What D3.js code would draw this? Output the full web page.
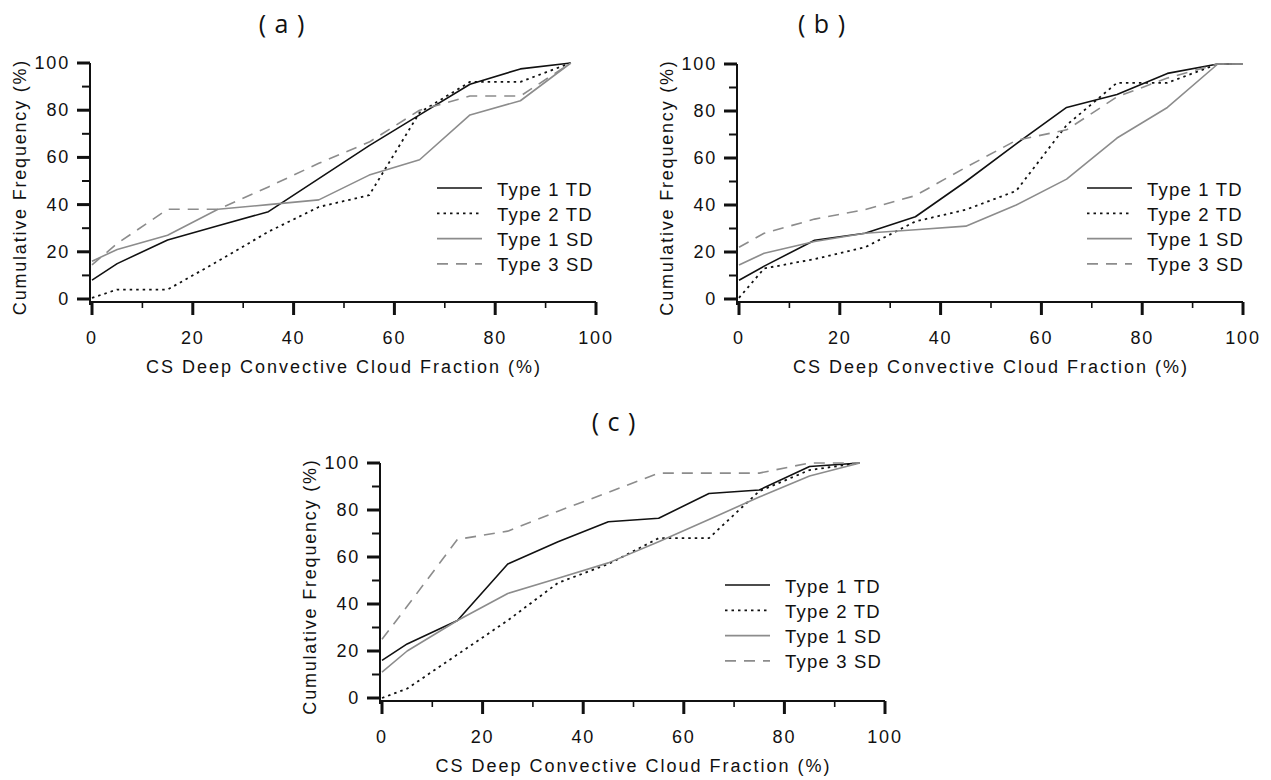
<!DOCTYPE html>
<html><head><meta charset="utf-8">
<script src="https://cdn.jsdelivr.net/npm/d3@7"></script>
<style>
body{margin:0;background:#fff;}
text{font-family:"Liberation Sans",Arial,sans-serif;fill:#111;}
.ptitle{font-family:"Open Sans","Noto Sans",sans-serif;}
</style></head>
<body>
<svg id="chart" width="1271" height="780"></svg>
<script>
// ---- data ----
const seriesNames = ["Type 1 TD", "Type 2 TD", "Type 1 SD", "Type 3 SD"];
const xTicks = [0, 20, 40, 60, 80, 100];
const yTicks = [0, 20, 40, 60, 80, 100];
const panelTitles = ["( a )", "( b )", "( c )"];
const xTitle = "CS Deep Convective Cloud Fraction (%)";
const yTitle = "Cumulative Frequency (%)";

const aX = [0, 5, 15, 25, 35, 45, 55, 65, 75, 85, 95];
const aType1TD = [8, 15, 25, 31, 37, 51, 65, 78, 91, 97.5, 100];
const aType2TD = [0.5, 4, 4, 16, 28.5, 39, 44, 79, 92, 92, 100];
const aType1SD = [16, 21, 27, 38, 40, 42, 52.5, 59, 78, 84, 100];
const aType3SD = [14.5, 23.5, 38, 38, 47.5, 57.5, 66.5, 80, 86, 86, 100];

const bX = [0, 5, 15, 25, 35, 45, 55, 65, 75, 85, 95, 100];
const bType1TD = [8, 14, 25, 28, 35, 50, 66, 81.5, 87, 96, 100, 100];
const bType2TD = [0.5, 13, 17, 22, 33, 38, 46, 74, 92, 92, 100, 100];
const bType1SD = [14.5, 19.5, 24.5, 28, 29.5, 31, 40, 51, 68.5, 81.5, 100, 100];
const bType3SD = [22, 28, 34, 38, 44, 56, 67.5, 72, 86, 94, 100, 100];

const cX = [0, 5, 15, 25, 35, 45, 55, 65, 75, 85, 95];
const cType1TD = [16, 23, 33, 57, 66.5, 75, 76.5, 87, 88.5, 98.5, 100];
const cType2TD = [0, 4, 18.5, 33, 49, 57, 68, 68, 88, 97, 100];
const cType1SD = [11, 20, 33, 44.5, 51, 57.5, 66.5, 76, 85.5, 94.5, 100];
const cType3SD = [25, 39, 67.5, 71, 79.5, 87.5, 95.7, 95.7, 95.7, 100, 100];

// ---- styles ----
const styles = [
  {stroke:"#111", width:1.6, dash:null},
  {stroke:"#111", width:1.8, dash:"2.5,4"},
  {stroke:"#8c8c8c", width:1.6, dash:null},
  {stroke:"#8c8c8c", width:1.6, dash:"11,8"}
];

const panels = [
  {title: panelTitles[0], titleX: 282, titleY: 23, x0: 92, x1: 596, y0: 299, y1: 63, xs: aX,
   series: [aType1TD, aType2TD, aType1SD, aType3SD], legX: 437, legY: 188},
  {title: panelTitles[1], titleX: 822, titleY: 23, x0: 739, x1: 1243, y0: 299, y1: 64, xs: bX,
   series: [bType1TD, bType2TD, bType1SD, bType3SD], legX: 1087, legY: 188},
  {title: panelTitles[2], titleX: 614, titleY: 421, x0: 382, x1: 885, y0: 698, y1: 463, xs: cX,
   series: [cType1TD, cType2TD, cType1SD, cType3SD], legX: 725, legY: 585}
];

const svg = d3.select("#chart");

panels.forEach(p => {
  const g = svg.append("g");
  const x = d3.scaleLinear().domain([0, 100]).range([p.x0, p.x1]);
  const y = d3.scaleLinear().domain([0, 100]).range([p.y0, p.y1]);
  const axisY = p.y0 + 3;
  const axisX = p.x0 - 2;

  g.append("text").attr("class","ptitle").attr("x", p.titleX).attr("y", p.titleY)
    .attr("text-anchor","middle").attr("dominant-baseline","central")
    .attr("font-size", 25).attr("letter-spacing", 1).text(p.title);

  // x axis
  const xa = g.append("g").attr("transform", `translate(0,${axisY})`);
  xa.append("line").attr("x1", axisX).attr("x2", p.x1).attr("y1",0).attr("y2",0)
    .attr("stroke","#111").attr("stroke-width",2);
  d3.range(0, 101, 10).forEach(v => {
    const major = v % 20 === 0;
    xa.append("line").attr("x1", x(v)).attr("x2", x(v)).attr("y1", 0).attr("y2", major ? 13 : 6)
      .attr("stroke","#111").attr("stroke-width", major ? 3 : 1.6);
  });
  xa.selectAll("text.tick").data(xTicks).enter().append("text")
    .attr("x", d => x(d)).attr("y", 36).attr("text-anchor","middle")
    .attr("dominant-baseline","central").attr("font-size",18).attr("letter-spacing",1.8)
    .text(d => d);
  g.append("text").attr("x", (p.x0 + p.x1)/2).attr("y", axisY + 65)
    .attr("text-anchor","middle").attr("dominant-baseline","central")
    .attr("font-size",18).attr("letter-spacing",2).text(xTitle);

  // y axis
  const ya = g.append("g").attr("transform", `translate(${axisX},0)`);
  ya.append("line").attr("x1",0).attr("x2",0).attr("y1", p.y1).attr("y2", axisY + 3)
    .attr("stroke","#111").attr("stroke-width",2);
  d3.range(0, 101, 10).forEach(v => {
    const major = v % 20 === 0;
    ya.append("line").attr("x1", major ? -13 : -8).attr("x2", 0).attr("y1", y(v)).attr("y2", y(v))
      .attr("stroke","#111").attr("stroke-width", major ? 3 : 2);
  });
  ya.selectAll("text.tick").data(yTicks).enter().append("text")
    .attr("x", -20).attr("y", d => y(d)).attr("text-anchor","end")
    .attr("dominant-baseline","central").attr("font-size",18).attr("letter-spacing",1.8)
    .text(d => d);
  g.append("text")
    .attr("transform", `translate(${axisX - 70},${(p.y0 + p.y1)/2 + 6}) rotate(-90)`)
    .attr("text-anchor","middle").attr("dominant-baseline","central")
    .attr("font-size",18).attr("letter-spacing",1.8).text(yTitle);

  // lines
  const line = d3.line().x(d => x(d[0])).y(d => y(d[1]));
  p.series.forEach((vals, i) => {
    const st = styles[i];
    g.append("path").datum(p.xs.map((xv, k) => [xv, vals[k]]))
      .attr("d", line).attr("fill","none")
      .attr("stroke", st.stroke).attr("stroke-width", st.width)
      .attr("stroke-dasharray", st.dash).attr("stroke-linejoin","round");
  });

  // legend
  seriesNames.forEach((name, i) => {
    const st = styles[i];
    const ly = p.legY + i * 25.3;
    g.append("line").attr("x1", p.legX).attr("x2", p.legX + 45).attr("y1", ly).attr("y2", ly)
      .attr("stroke", st.stroke).attr("stroke-width", st.width)
      .attr("stroke-dasharray", st.dash);
    g.append("text").attr("x", p.legX + 60).attr("y", ly + 1)
      .attr("dominant-baseline","central").attr("font-size",18.5).attr("letter-spacing",1.2)
      .text(name);
  });
});
</script>
</body></html>
